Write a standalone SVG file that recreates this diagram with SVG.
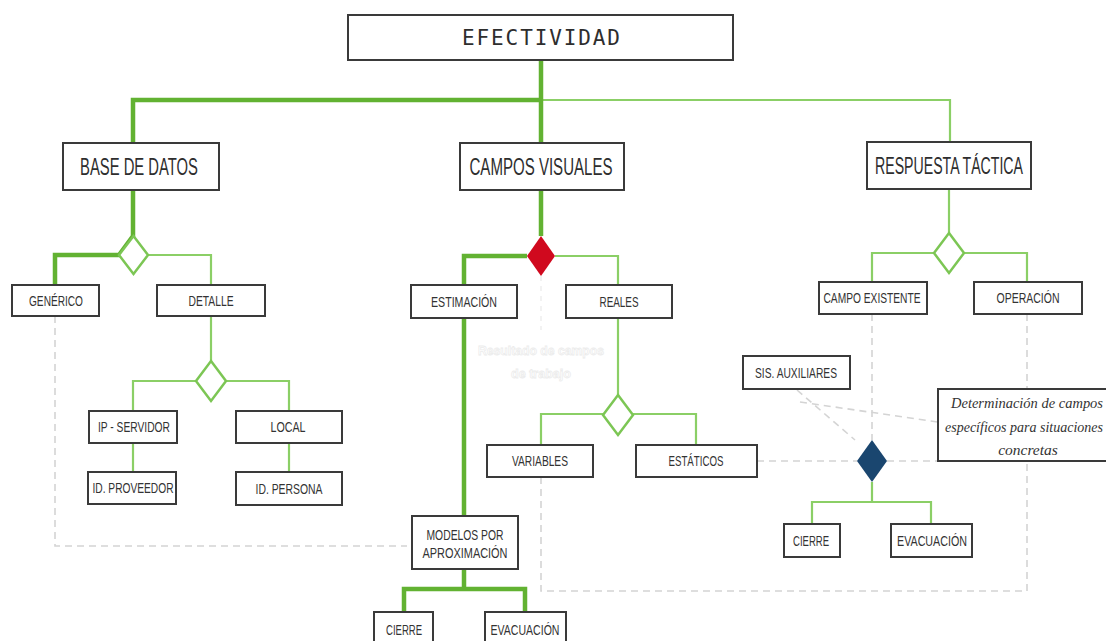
<svg xmlns="http://www.w3.org/2000/svg" width="1106" height="641" viewBox="0 0 1106 641">
<defs>
<style>
.box{fill:#fff;stroke:#3a3a3a;stroke-width:2}
.big{font-family:"Liberation Sans",Arial,sans-serif;font-size:24px;fill:#2e2e2e;text-anchor:middle}
.sm{font-family:"Liberation Sans",Arial,sans-serif;font-size:14.5px;fill:#333;text-anchor:middle}
.thick{fill:none;stroke:#62b232;stroke-width:4.5;stroke-linejoin:miter}
.thin{fill:none;stroke:#8bcf66;stroke-width:2.2}
.dash{fill:none;stroke:#d4d4d4;stroke-width:1.6;stroke-dasharray:7 5}
.dia{fill:#fff;stroke:#7cc654;stroke-width:2.5}
.ital{font-family:"Liberation Serif","Times New Roman",serif;font-style:italic;font-size:15.5px;fill:#333;text-anchor:middle}
</style>
</defs>
<rect width="1106" height="641" fill="#fff"/>

<g id="connectors">
  <path class="dash" d="M55 316 V546 H407"/>
  <path class="dash" d="M541 477 V591 H1027 V461"/>
  <path class="dash" d="M1027 314 V389"/>
  <path class="dash" d="M757 461 H857"/>
  <path class="dash" d="M887 461 H938"/>
  <path class="dash" d="M872 314 V440"/>
  <path class="dash" d="M797 390 L855 440"/>
  <path class="dash" d="M800 402 L938 422"/>
  <path fill="none" stroke="#eeeeee" stroke-width="1.5" stroke-dasharray="5 5" d="M541 276 V330"/>
  <path class="thin" d="M541 100 H950 V142"/>
  <path class="thick" d="M541 60 V143"/>
  <path class="thick" d="M541 100 H133 V143"/>
  <path class="thick" d="M133 190 V236 L119 255 H55 V285"/>
  <path class="thin" d="M148 255 H211 V285"/>
  <path class="thin" d="M211 316 V361"/>
  <path class="thin" d="M196 381 H133 V411"/>
  <path class="thin" d="M226 381 H289 V411"/>
  <path class="thin" d="M133 443 V472"/>
  <path class="thin" d="M289 443 V472"/>
  <path class="thick" d="M541 190 V236"/>
  <path class="thick" d="M527 256 H464 V285"/>
  <path class="thin" d="M555 256 H618 V285"/>
  <path class="thick" d="M464 318 V516"/>
  <path class="thick" d="M464 569 V589"/>
  <path class="thick" d="M404 612 V589 H525 V612"/>
  <path class="thin" d="M618 318 V395"/>
  <path class="thin" d="M603 414 H541 V445"/>
  <path class="thin" d="M633 414 H696 V445"/>
  <path class="thin" d="M949 189 V233"/>
  <path class="thin" d="M934 253 H872 V282"/>
  <path class="thin" d="M964 253 H1027 V282"/>
  <path class="thin" d="M872 482 V502 H812 V524"/>
  <path class="thin" d="M872 502 H931 V524"/>
</g>

<g id="n-efectividad">
  <rect class="box" x="348" y="15" width="385" height="45"/>
  <text x="541" y="45" font-family="'DejaVu Sans Mono',monospace" font-size="21" fill="#2e2e2e" text-anchor="middle" textLength="158" lengthAdjust="spacing">EFECTIVIDAD</text>
</g>

<g id="n-base"><rect class="box" x="63" y="143" width="156" height="47"/><text class="big" x="139" y="175" textLength="118" lengthAdjust="spacingAndGlyphs">BASE DE DATOS</text></g>
<g id="n-campos"><rect class="box" x="460" y="143" width="164" height="47"/><text class="big" x="541" y="175" textLength="143" lengthAdjust="spacingAndGlyphs">CAMPOS VISUALES</text></g>
<g id="n-respuesta"><rect class="box" x="867" y="142" width="164" height="47"/><text class="big" x="949" y="174" textLength="148" lengthAdjust="spacingAndGlyphs">RESPUESTA TÁCTICA</text></g>

<g id="d-base"><path class="dia" d="M133.5 236 L148 255 L133.5 274 L119 255 Z"/></g>
<g id="d-detalle"><path class="dia" d="M211 361 L226 381 L211 401 L196 381 Z"/></g>
<g id="d-campos"><path d="M541 236 L555 256 L541 276 L527 256 Z" fill="#d0091e"/></g>
<g id="d-reales"><path class="dia" d="M618 395 L633 415 L618 435 L603 415 Z"/></g>
<g id="d-respuesta"><path class="dia" d="M949 233 L964 253 L949 273 L934 253 Z"/></g>
<g id="d-navy"><path d="M872 440 L887 461 L872 482 L857 461 Z" fill="#1a466f"/></g>

<g id="n-generico"><rect class="box" x="12" y="285" width="87" height="31"/><text class="sm" x="56" y="306" textLength="54" lengthAdjust="spacingAndGlyphs">GENÉRICO</text></g>
<g id="n-detalle"><rect class="box" x="157" y="285" width="108" height="31"/><text class="sm" x="211" y="306" textLength="45" lengthAdjust="spacingAndGlyphs">DETALLE</text></g>
<g id="n-ip"><rect class="box" x="89" y="411" width="88" height="32"/><text class="sm" x="134" y="432" textLength="72" lengthAdjust="spacingAndGlyphs">IP - SERVIDOR</text></g>
<g id="n-local"><rect class="box" x="236" y="411" width="106" height="32"/><text class="sm" x="288" y="432" textLength="35" lengthAdjust="spacingAndGlyphs">LOCAL</text></g>
<g id="n-idprov"><rect class="box" x="88" y="472" width="88" height="32"/><text class="sm" x="133" y="493" textLength="81" lengthAdjust="spacingAndGlyphs">ID. PROVEEDOR</text></g>
<g id="n-idpers"><rect class="box" x="236" y="472" width="106" height="33"/><text class="sm" x="289" y="494" textLength="67" lengthAdjust="spacingAndGlyphs">ID. PERSONA</text></g>

<g id="n-estimacion"><rect class="box" x="411" y="285" width="106" height="33"/><text class="sm" x="464" y="307" textLength="66" lengthAdjust="spacingAndGlyphs">ESTIMACIÓN</text></g>
<g id="n-reales"><rect class="box" x="566" y="285" width="106" height="33"/><text class="sm" x="619" y="307" textLength="39" lengthAdjust="spacingAndGlyphs">REALES</text></g>
<g id="n-resultado">
  <text x="541" y="355" font-family="'Liberation Sans',Arial,sans-serif" font-size="13" font-weight="bold" fill="#fff" stroke="#ececec" stroke-width="0.8" text-anchor="middle" textLength="126" lengthAdjust="spacingAndGlyphs">Resultado de campos</text>
  <text x="541" y="378" font-family="'Liberation Sans',Arial,sans-serif" font-size="13" font-weight="bold" fill="#fff" stroke="#ececec" stroke-width="0.8" text-anchor="middle" textLength="60" lengthAdjust="spacingAndGlyphs">de trabajo</text>
</g>
<g id="n-variables"><rect class="box" x="487" y="445" width="106" height="32"/><text class="sm" x="540" y="466" textLength="56" lengthAdjust="spacingAndGlyphs">VARIABLES</text></g>
<g id="n-estaticos"><rect class="box" x="636" y="445" width="121" height="32"/><text class="sm" x="696" y="466" textLength="55" lengthAdjust="spacingAndGlyphs">ESTÁTICOS</text></g>
<g id="n-modelos"><rect class="box" x="412" y="516" width="106" height="53"/>
  <text class="sm" x="465" y="540" textLength="77" lengthAdjust="spacingAndGlyphs">MODELOS POR</text>
  <text class="sm" x="465" y="558" textLength="85" lengthAdjust="spacingAndGlyphs">APROXIMACIÓN</text></g>
<g id="n-cierre1"><rect class="box" x="374" y="612" width="59" height="40"/><text class="sm" x="404" y="635" textLength="36" lengthAdjust="spacingAndGlyphs">CIERRE</text></g>
<g id="n-evac1"><rect class="box" x="485" y="612" width="81" height="40"/><text class="sm" x="525" y="635" textLength="69" lengthAdjust="spacingAndGlyphs">EVACUACIÓN</text></g>

<g id="n-campoexist"><rect class="box" x="819" y="282" width="108" height="32"/><text class="sm" x="872" y="303" textLength="97" lengthAdjust="spacingAndGlyphs">CAMPO EXISTENTE</text></g>
<g id="n-operacion"><rect class="box" x="974" y="282" width="108" height="32"/><text class="sm" x="1028" y="303" textLength="63" lengthAdjust="spacingAndGlyphs">OPERACIÓN</text></g>
<g id="n-sisaux"><rect class="box" x="743" y="356" width="107" height="33"/><text class="sm" x="796" y="378" textLength="82" lengthAdjust="spacingAndGlyphs">SIS. AUXILIARES</text></g>
<g id="n-determinacion"><rect class="box" x="938" y="389" width="180" height="72"/>
  <text class="ital" x="1027" y="408" textLength="152" lengthAdjust="spacingAndGlyphs">Determinación de campos</text>
  <text class="ital" x="1024" y="432" textLength="158" lengthAdjust="spacingAndGlyphs">específicos para situaciones</text>
  <text class="ital" x="1028" y="455">concretas</text></g>
<g id="n-cierre2"><rect class="box" x="784" y="524" width="56" height="33"/><text class="sm" x="811" y="546" textLength="36" lengthAdjust="spacingAndGlyphs">CIERRE</text></g>
<g id="n-evac2"><rect class="box" x="891" y="524" width="81" height="33"/><text class="sm" x="932" y="546" textLength="70" lengthAdjust="spacingAndGlyphs">EVACUACIÓN</text></g>
</svg>
